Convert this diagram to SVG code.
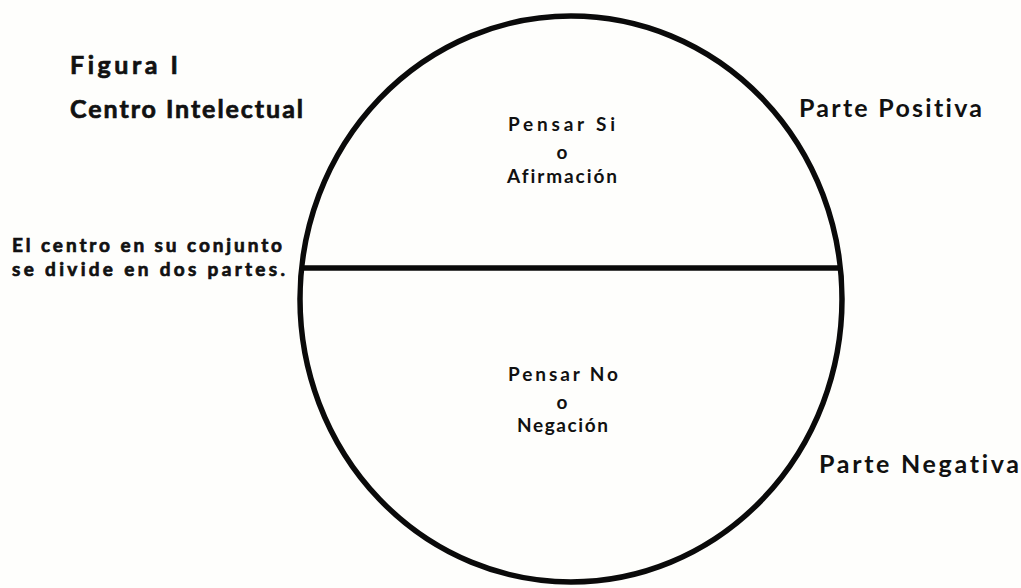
<svg xmlns="http://www.w3.org/2000/svg" width="1021" height="588" viewBox="0 0 1021 588">
<style>
.t{font-family:Lato,"Liberation Sans",sans-serif;font-weight:bold;fill:#111;font-variant-ligatures:none;}
.heavy{stroke:#111;stroke-width:0.7;}
.big{font-size:25px;}
.mid{font-size:19px;}
.sm{font-size:19px;}
.c{text-anchor:middle;}
.ln{fill:none;stroke:#0a0a0a;stroke-width:5.5;}
</style>
<rect width="1021" height="588" fill="#fefefc"/>
<g id="circle">
<ellipse class="ln" cx="571" cy="299" rx="271" ry="283"/>
</g>
<g id="connectors">
<line class="ln" x1="301" y1="268" x2="840" y2="268"/>
</g>
<g id="title">
<text class="t big heavy" x="70" y="74" textLength="108" lengthAdjust="spacing">Figura I</text>
<text class="t big heavy" x="70" y="118" textLength="233" lengthAdjust="spacing">Centro Intelectual</text>
</g>
<g id="note">
<text class="t mid heavy" x="12" y="252" textLength="270" lengthAdjust="spacing">El centro en su conjunto</text>
<text class="t mid heavy" x="12" y="276" textLength="273" lengthAdjust="spacing">se divide en dos partes.</text>
</g>
<g id="upper">
<text class="t sm" x="508" y="131" textLength="107" lengthAdjust="spacing">Pensar Si</text>
<text class="t sm c" x="562" y="159">o</text>
<text class="t sm" x="507" y="183" textLength="110" lengthAdjust="spacing">Afirmación</text>
</g>
<g id="lower">
<text class="t sm" x="508" y="381" textLength="110" lengthAdjust="spacing">Pensar No</text>
<text class="t sm c" x="562" y="409">o</text>
<text class="t sm" x="517" y="432" textLength="91" lengthAdjust="spacing">Negación</text>
</g>
<g id="positive">
<text class="t big" x="799" y="117" textLength="183" lengthAdjust="spacing">Parte Positiva</text>
</g>
<g id="negative">
<text class="t big" x="819" y="473" font-size="26" textLength="200" lengthAdjust="spacing">Parte Negativa</text>
</g>
</svg>
